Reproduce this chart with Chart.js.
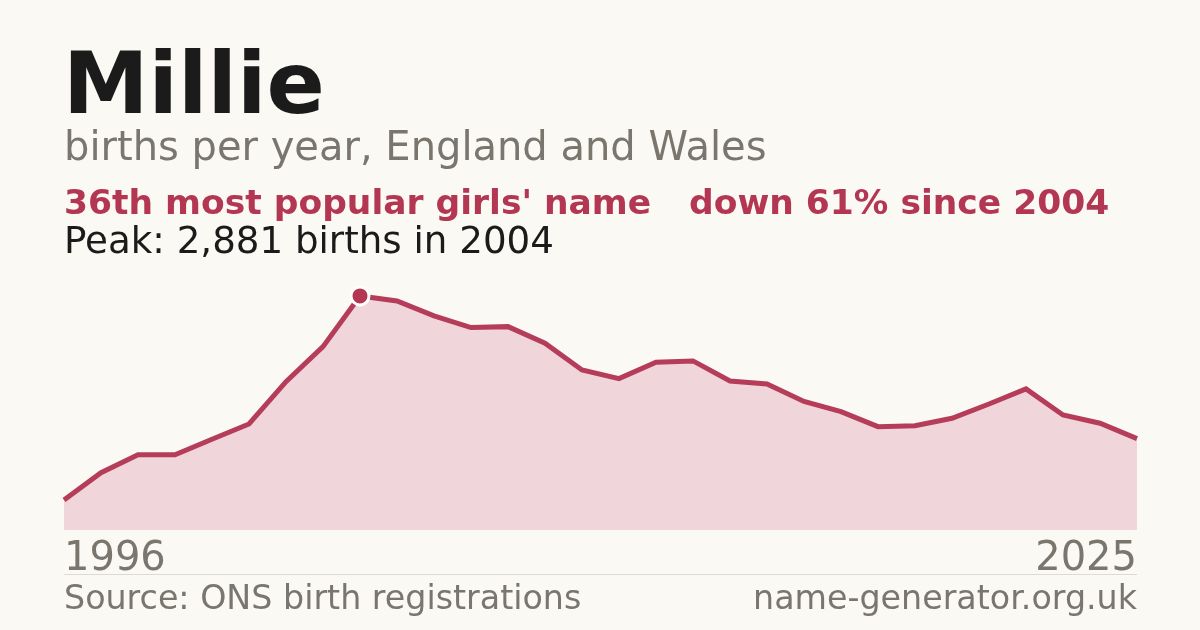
<!DOCTYPE html>
<html>
<head>
<meta charset="utf-8">
<script src="https://cdn.jsdelivr.net/npm/chart.js@4/dist/chart.umd.min.js"></script>
<style>
  html, body { margin: 0; padding: 0; background: #faf9f4; }
  #wrap { position: relative; width: 1200px; height: 630px; }
  canvas { display: block; }
</style>
</head>
<body>
<div id="wrap"><canvas id="c" width="1200" height="630"></canvas></div>
<script>
const years = [1996,1997,1998,1999,2000,2001,2002,2003,2004,2005,2006,2007,2008,2009,2010,2011,2012,2013,2014,2015,2016,2017,2018,2019,2020,2021,2022,2023,2024,2025];
const births = [369,706,925,925,1117,1305,1826,2257,2881,2819,2635,2491,2503,2299,1970,1863,2065,2081,1834,1798,1582,1457,1272,1284,1375,1551,1736,1416,1314,1124];
const titleText = "Millie";
const subtitleText = "births per year, England and Wales";
const rankText = "36th most popular girls' name";
const changeText = "down 61% since 2004";
const peakText = "Peak: 2,881 births in 2004";
const sourceText = "Source: ONS birth registrations";
const siteText = "name-generator.org.uk";

const peakIndex = births.indexOf(Math.max(...births));
const FONT = "'DejaVu Sans', sans-serif";

const textPlugin = {
  id: 'texts',
  afterDraw(chart) {
    const ctx = chart.ctx;
    const area = chart.chartArea;
    const xs = chart.scales.x;
    ctx.save();
    ctx.textBaseline = 'alphabetic';
    ctx.textAlign = 'left';
    ctx.fillStyle = '#1b1b1b';
    ctx.font = "bold 86px " + FONT;
    ctx.fillText(titleText, 63, 113);
    ctx.fillStyle = '#7a766e';
    ctx.font = "40px " + FONT;
    ctx.fillText(subtitleText, 64, 160);
    ctx.fillStyle = '#b33652';
    ctx.font = "bold 34.5px " + FONT;
    ctx.fillText(rankText, 64, 214);
    ctx.fillText(changeText, 689, 214);
    ctx.fillStyle = '#1b1b1b';
    ctx.font = "37.2px " + FONT;
    ctx.fillText(peakText, 64, 253);
    // year labels
    ctx.fillStyle = '#7a766e';
    ctx.font = "40px " + FONT;
    ctx.textAlign = 'left';
    ctx.fillText(String(years[0]), xs.getPixelForValue(0), 570);
    ctx.textAlign = 'right';
    ctx.fillText(String(years[years.length - 1]), xs.getPixelForValue(years.length - 1), 570);
    // separator
    ctx.strokeStyle = '#dddad3';
    ctx.lineWidth = 1;
    ctx.beginPath();
    ctx.moveTo(area.left, 574.5);
    ctx.lineTo(area.right, 574.5);
    ctx.stroke();
    // footer
    ctx.font = "33.3px " + FONT;
    ctx.textAlign = 'left';
    ctx.fillText(sourceText, 64, 609);
    ctx.textAlign = 'right';
    ctx.fillText(siteText, area.right, 609);
    ctx.restore();
  }
};

new Chart(document.getElementById('c'), {
  type: 'line',
  data: {
    labels: years,
    datasets: [{
      data: births,
      borderColor: '#b53d59',
      borderWidth: 5,
      backgroundColor: '#f0d5da',
      fill: 'origin',
      tension: 0,
      pointRadius: ctx => ctx.dataIndex === peakIndex ? 9 : 0,
      pointHoverRadius: 0,
      pointBackgroundColor: '#b33652',
      pointBorderColor: '#ffffff',
      pointBorderWidth: 3
    }]
  },
  options: {
    responsive: false,
    animation: false,
    events: [],
    layout: { padding: { left: 64, right: 63, top: 270, bottom: 100 } },
    plugins: { legend: { display: false }, tooltip: { enabled: false } },
    scales: {
      x: { display: false, offset: false },
      y: { display: false, min: 0, max: 3200 }
    }
  },
  plugins: [textPlugin]
});
</script>
</body>
</html>
